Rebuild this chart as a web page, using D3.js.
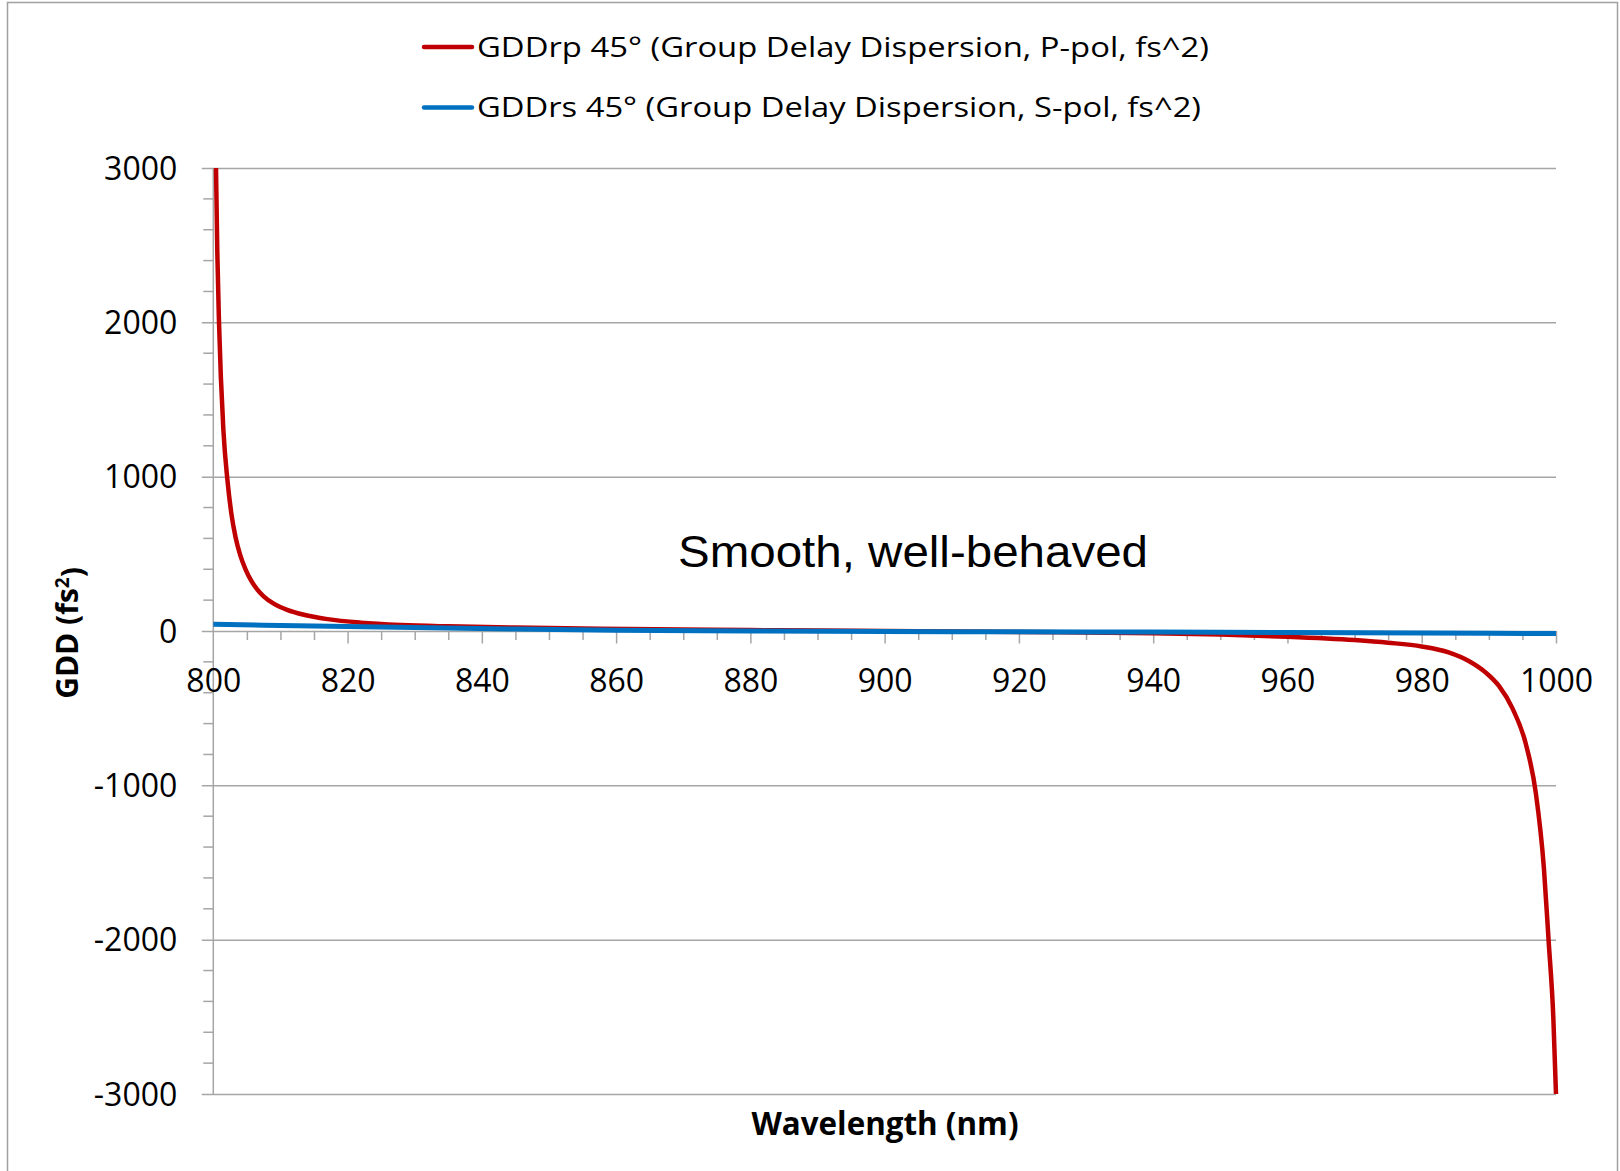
<!DOCTYPE html>
<html>
<head>
<meta charset="utf-8">
<script src="https://cdn.jsdelivr.net/npm/d3@7"></script>
<style>
  html, body { margin: 0; padding: 0; background: #fff; }
  svg { display: block; }
  text { font-family: "Open Sans", "Noto Sans", sans-serif; fill: #000; }
</style>
</head>
<body>
<svg id="chart" width="1620" height="1171"></svg>
<script>
// Group delay dispersion at 45° incidence, P- and S-polarisation (fs^2)
const wavelengthP = [800.4, 800.6, 800.85, 801.5, 802.1, 802.7, 803.3, 804.0, 804.8, 805.6, 806.5, 807.5, 809.0, 811.0, 813.5, 817.0, 822.0, 828.0, 835.0, 845.0, 857.6, 870, 880, 890, 900, 910, 920, 930, 940, 950, 960, 970, 975, 980, 984, 987, 989.5, 991.5, 993.5, 995.5, 997.0, 998.2, 998.9, 999.6, 1000];
const gddP = [3000, 2450, 2000, 1305, 980, 758, 611, 493, 400, 330, 272, 225, 177, 137, 105, 77, 54, 39, 30, 22, 15, 10, 6, 3, 0, -3, -6, -10, -15, -23, -37, -59, -76, -100, -138, -194, -268, -356, -500, -731, -1051, -1537, -2007, -2504, -3000];

const wavelengthS = [800, 815, 830, 845, 860, 880, 900, 920, 940, 960, 980, 1000];
const gddS = [43, 33, 23, 13, 5, 0, -3, -5, -7, -10, -13, -17];

const xTicks = [800, 820, 840, 860, 880, 900, 920, 940, 960, 980, 1000];
const yTicks = [-3000, -2000, -1000, 0, 1000, 2000, 3000];

const seriesNames = [
  "GDDrp 45° (Group Delay Dispersion, P-pol, fs^2)",
  "GDDrs 45° (Group Delay Dispersion, S-pol, fs^2)"
];
const seriesColors = ["#C00000", "#0070C0"];

const svg = d3.select("#chart");
const gridColor = "#a6a6a6";

const x = d3.scaleLinear().domain([800, 1000]).range([213.3, 1556]);
const y = d3.scaleLinear().domain([-3000, 3000]).range([1094, 168]);

// outer frame
svg.append("rect")
  .attr("x", 7.5).attr("y", 2.5).attr("width", 1610).attr("height", 1200)
  .attr("fill", "none").attr("stroke", "#a0a0a0").attr("stroke-width", 1.5);

// horizontal gridlines with left major ticks
const yAxis = d3.axisLeft(y)
  .tickValues(yTicks)
  .tickSize(-(x.range()[1] - x.range()[0]))
  .tickFormat(d => String(d));
const gy = svg.append("g").attr("transform", `translate(${x(800)},0)`).call(yAxis);
gy.select(".domain").remove();
gy.selectAll(".tick line").attr("stroke", gridColor).attr("stroke-width", 1.5)
  .attr("x1", -11.5);
gy.selectAll(".tick text").style("font-size", "32px").attr("fill", "#000")
  .attr("x", -36).attr("dy", "0.35em");

// minor y ticks every 200
const yMinor = d3.range(-3000, 3001, 200).filter(v => v % 1000 !== 0);
svg.append("g").selectAll("line").data(yMinor).join("line")
  .attr("x1", x(800) - 10).attr("x2", x(800))
  .attr("y1", d => y(d)).attr("y2", d => y(d))
  .attr("stroke", gridColor).attr("stroke-width", 1.5);

// vertical axis line
svg.append("line")
  .attr("x1", x(800)).attr("x2", x(800))
  .attr("y1", y(3000)).attr("y2", y(-3000))
  .attr("stroke", gridColor).attr("stroke-width", 1.5);

// x axis through zero: minor ticks every 5 nm, major ticks every 20 nm
const xMinor = d3.range(805, 1001, 5).filter(v => v % 20 !== 0);
const gxMinor = d3.axisBottom(x).tickValues(xMinor).tickSize(9).tickFormat("");
const gm = svg.append("g").attr("transform", `translate(0,${y(0)})`).call(gxMinor);
gm.select(".domain").remove();
gm.selectAll(".tick line").attr("stroke", gridColor).attr("stroke-width", 1.5);

const xAxis = d3.axisBottom(x).tickValues(xTicks).tickSize(12.5).tickFormat(d => String(d));
const gx = svg.append("g").attr("transform", `translate(0,${y(0)})`).call(xAxis);
gx.select(".domain").remove();
gx.selectAll(".tick line").attr("stroke", gridColor).attr("stroke-width", 1.5)
  .filter(d => d === 800).remove();
gx.selectAll(".tick text").style("font-size", "32px").attr("fill", "#000")
  .attr("y", 61).attr("dy", "0");

// series lines
const lineGen = d3.line()
  .x(d => x(d[0]))
  .y(d => y(d[1]))
  .curve(d3.curveMonotoneX);

const pData = wavelengthP.map((w, i) => [w, gddP[i]]);
const sData = wavelengthS.map((w, i) => [w, gddS[i]]);

svg.append("path").datum(pData).attr("d", lineGen)
  .attr("fill", "none").attr("stroke", seriesColors[0]).attr("stroke-width", 4.5)
  .attr("stroke-linejoin", "round");
svg.append("path").datum(sData).attr("d", lineGen)
  .attr("fill", "none").attr("stroke", seriesColors[1]).attr("stroke-width", 5)
  .attr("stroke-linejoin", "round");

// legend
const legendY = [47, 107.5];
const legendW = [732, 724];
seriesNames.forEach((name, i) => {
  svg.append("line")
    .attr("x1", 424).attr("x2", 472)
    .attr("y1", legendY[i]).attr("y2", legendY[i])
    .attr("stroke", seriesColors[i]).attr("stroke-width", 4.5)
    .attr("stroke-linecap", "round");
  svg.append("text")
    .attr("x", 477).attr("y", legendY[i]).attr("dy", "0.35em")
    .style("font-size", "28px")
    .attr("textLength", legendW[i]).attr("lengthAdjust", "spacingAndGlyphs")
    .text(name);
});

// annotation
svg.append("text")
  .attr("x", 678).attr("y", 566.5)
  .style("font-family", "'Liberation Sans', Arial, sans-serif")
  .style("font-size", "44px")
  .attr("textLength", 470).attr("lengthAdjust", "spacingAndGlyphs")
  .text("Smooth, well-behaved");

// axis titles
svg.append("text")
  .attr("x", 885).attr("y", 1135)
  .attr("text-anchor", "middle")
  .style("font-size", "32px").style("font-weight", "bold")
  .attr("textLength", 267).attr("lengthAdjust", "spacingAndGlyphs")
  .text("Wavelength (nm)");

const yTitle = svg.append("text")
  .attr("transform", "translate(78,633) rotate(-90)")
  .attr("text-anchor", "middle")
  .style("font-size", "30px").style("font-weight", "bold");
yTitle.append("tspan").text("GDD (fs");
yTitle.append("tspan").attr("dy", "-0.45em").style("font-size", "19px").text("2");
yTitle.append("tspan").attr("dy", "0.45em").text(")");
</script>
</body>
</html>
